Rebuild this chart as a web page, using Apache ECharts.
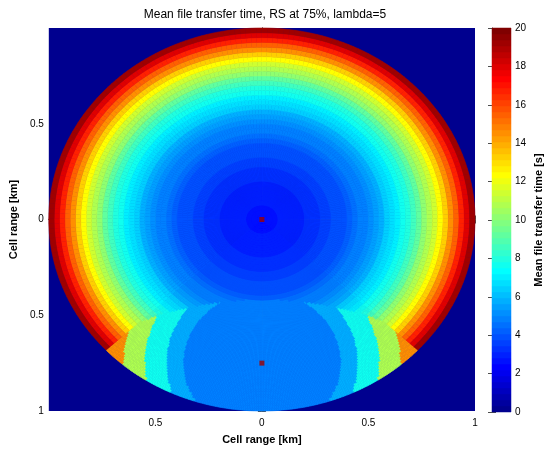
<!DOCTYPE html>
<html><head><meta charset="utf-8">
<script src="https://cdn.jsdelivr.net/npm/echarts@6/dist/echarts.min.js"></script>
<style>html,body{margin:0;padding:0;background:#fff}#c{width:545px;height:450px}</style>
</head><body><div id="c"></div>
<script>
// ---- text ----
const titleText = 'Mean file transfer time, RS at 75%, lambda=5';
const axisName = 'Cell range [km]';
const colorbarName = 'Mean file transfer time [s]';
// ---- data ----
// base station served: mean time per ring (ring width 0.025 km, centre outward)
const bsRingTime = [2.7,2.75,2.8,2.85, 2.9,2.95,3.0,3.05, 3.15,3.25,3.35,3.45, 3.6,3.75,3.9,4.05,
  4.25,4.45,4.7,4.95, 5.25,5.55,5.9,6.3, 6.7,7.15,7.6,8.1, 8.7,9.3,10.0,10.7,
  11.4,12.3,13.3,14.4, 15.5,16.7,17.9,19.3];
// relay station (RS) at 75% of the cell radius, serving part of the lower sector
const rsPosition = [0, 0.75];
const rsSectorDeg = [43, 137];
const rsServeRatio = 0.78;               // served by RS where dist(RS) < ratio * dist(BS)
const rsDistEdges = [0, 0.37, 0.45, 0.55, 0.65];
const rsBandTime = [4.7, 5.9, 7.8, 10.8, 14.6];
// markers: base station and relay station
const markerX = [0, 0];
const markerY = [0, 0.75];
const colorbarMin = 0, colorbarMax = 20, colorbarStep = 2;

// ---- MATLAB jet(64) colormap ----
function jet64(){
  const m=64,n=16,u=[];
  for(let i=1;i<=n;i++)u.push(i/n);
  for(let i=0;i<n-1;i++)u.push(1);
  for(let i=n;i>=1;i--)u.push(i/n);
  const J=[];for(let i=0;i<m;i++)J.push([0,0,0]);
  for(let k=1;k<=u.length;k++){
    const g=8+k,r=g+n,b=g-n;
    if(r<=m)J[r-1][0]=u[k-1];
    if(g<=m)J[g-1][1]=u[k-1];
    if(b>=1)J[b-1][2]=u[k-1];
  }
  return J.map(c=>'rgb('+c.map(x=>Math.round(x*255)).join(',')+')');
}
const jet = jet64();
const lvl = (colorbarMax-colorbarMin)/jet.length;
const pieces = jet.map((c,i)=> i===jet.length-1 ? {gte: colorbarMin+i*lvl, lte: colorbarMax+1, color:c} : {gte: colorbarMin+i*lvl, lt: colorbarMin+(i+1)*lvl, color:c});

// ---- polar cell table (lookup of the arrays above) ----
const nRings = bsRingTime.length, dr = 1/nRings;
const cells = [];
function addCells(aStart, aEnd, nA, sub){
  const da=(aEnd-aStart)/nA, drs=dr/sub;
  for(let i=0;i<nRings*sub;i++){
    const ring=Math.floor(i/sub), r0=i*drs, r1=(i+1)*drs, rc=(r0+r1)/2;
    for(let j=0;j<nA;j++){
      const a0=aStart+j*da, a1=a0+da, ac=(a0+a1)/2;
      let v=bsRingTime[ring];
      const acn=((ac%360)+360)%360;
      if(acn>=rsSectorDeg[0] && acn<=rsSectorDeg[1]){
        const x=rc*Math.cos(acn*Math.PI/180), y=rc*Math.sin(acn*Math.PI/180);
        const d=Math.hypot(x-rsPosition[0], y-rsPosition[1]);
        if(d < rsServeRatio*rc){
          let b=0; for(let k=0;k<rsDistEdges.length;k++) if(d>=rsDistEdges[k]) b=k;
          v=rsBandTime[b];
        }
      }
      cells.push([r0,r1,a0,a1,v]);
    }
  }
}
addCells(rsSectorDeg[0], rsSectorDeg[1], 188, 2);
addCells(rsSectorDeg[1], rsSectorDeg[0]+360, 178, 1);
const barCells = jet.map((c,i)=>[0,1,colorbarMin+i*lvl,colorbarMin+(i+1)*lvl,colorbarMin+(i+0.5)*lvl]);

const FONT = 'Liberation Sans, Arial, Helvetica, sans-serif';
const lineCol = '#4d4d4d';
const fmt = v => (Math.abs(v+1)<1e-9) ? '' : String(Math.abs(v));

const chart = echarts.init(document.getElementById('c'), null, {renderer:'canvas'});
chart.setOption({
  animation:false,
  backgroundColor:'#ffffff',
  textStyle:{fontFamily:FONT},
  title:{text:titleText, left:260, top:4, textAlign:'center',
    textStyle:{fontFamily:FONT, fontSize:12, fontWeight:'normal', color:'#000'}},
  grid:[
    {left:45, top:28, width:430, height:384, show:true, backgroundColor:jet[0], borderWidth:0},
    {left:492, top:28, width:22, height:384, show:false}
  ],
  visualMap:{type:'piecewise', show:false, dimension:4, seriesIndex:[0,2], pieces:pieces},
  xAxis:[
    {gridIndex:0, type:'value', min:-1, max:1, interval:0.5, position:'bottom',
      axisLine:{show:true, lineStyle:{color:lineCol}}, axisTick:{show:true, inside:true, length:4, lineStyle:{color:lineCol}},
      axisLabel:{formatter:fmt, color:'#000', fontSize:10, margin:7, showMinLabel:true, showMaxLabel:true},
      splitLine:{show:false},
      name:axisName, nameLocation:'middle', nameGap:23, nameTextStyle:{fontFamily:FONT, fontSize:11, fontWeight:'bold', color:'#000'}},
    {gridIndex:0, type:'value', min:-1, max:1, interval:0.5, position:'top',
      axisLine:{show:true, lineStyle:{color:lineCol}}, axisTick:{show:true, inside:true, length:4, lineStyle:{color:lineCol}},
      axisLabel:{show:false}, splitLine:{show:false}},
    {gridIndex:1, type:'value', min:0, max:1, show:false}
  ],
  yAxis:[
    {gridIndex:0, type:'value', min:-1, max:1, interval:0.5, inverse:true, position:'left',
      axisLine:{show:true, lineStyle:{color:lineCol}}, axisTick:{show:true, inside:true, length:4, lineStyle:{color:lineCol}},
      axisLabel:{formatter:fmt, color:'#000', fontSize:10, margin:5, showMinLabel:true, showMaxLabel:true},
      splitLine:{show:false},
      name:axisName, nameLocation:'middle', nameGap:24, nameTextStyle:{fontFamily:FONT, fontSize:11, fontWeight:'bold', color:'#000'}},
    {gridIndex:0, type:'value', min:-1, max:1, interval:0.5, inverse:true, position:'right',
      axisLine:{show:true, lineStyle:{color:lineCol}}, axisTick:{show:true, inside:true, length:4, lineStyle:{color:lineCol}},
      axisLabel:{show:false}, splitLine:{show:false}},
    {gridIndex:1, type:'value', min:colorbarMin, max:colorbarMax, interval:colorbarStep, position:'right',
      axisLine:{show:true, lineStyle:{color:'#888'}}, axisTick:{show:true, inside:true, length:4, lineStyle:{color:lineCol}},
      axisLabel:{color:'#000', fontSize:10, margin:4, showMinLabel:true, showMaxLabel:true}, splitLine:{show:false},
      name:colorbarName, nameLocation:'middle', nameGap:22, nameTextStyle:{fontFamily:FONT, fontSize:11, fontWeight:'bold', color:'#000'}},
    {gridIndex:1, type:'value', min:colorbarMin, max:colorbarMax, interval:colorbarStep, position:'left',
      axisLine:{show:true, lineStyle:{color:'#888'}}, axisTick:{show:true, inside:true, length:4, lineStyle:{color:lineCol}},
      axisLabel:{show:false}, splitLine:{show:false}}
  ],
  series:[
    {type:'custom', xAxisIndex:0, yAxisIndex:0, data:cells, silent:true, clip:true,
      encode:{x:0, y:1},
      renderItem:function(params, api){
        const r0=api.value(0), r1=api.value(1), a0=api.value(2)*Math.PI/180, a1=api.value(3)*Math.PI/180;
        const pts=[[r0*Math.cos(a0), r0*Math.sin(a0)],[r1*Math.cos(a0), r1*Math.sin(a0)],
                   [r1*Math.cos(a1), r1*Math.sin(a1)],[r0*Math.cos(a1), r0*Math.sin(a1)]].map(p=>api.coord(p));
        const c=api.visual('color');
        return {type:'polygon', shape:{points:pts}, style:{fill:c, stroke:c, lineWidth:0.6}};
      }},
    {type:'scatter', xAxisIndex:0, yAxisIndex:0, data:markerX.map((x,i)=>[x, markerY[i]]),
      symbol:'rect', symbolSize:5, itemStyle:{color:'#a00000'}, z:10, silent:true},
    {type:'custom', xAxisIndex:2, yAxisIndex:2, data:barCells, silent:true, encode:{x:0, y:2},
      renderItem:function(params, api){
        const p0=api.coord([api.value(0), api.value(3)]), p1=api.coord([api.value(1), api.value(2)]);
        const c=api.visual('color');
        return {type:'rect', shape:{x:p0[0], y:p0[1], width:p1[0]-p0[0], height:p1[1]-p0[1]}, style:{fill:c, stroke:c, lineWidth:0.5}};
      }}
  ]
});
</script></body></html>
